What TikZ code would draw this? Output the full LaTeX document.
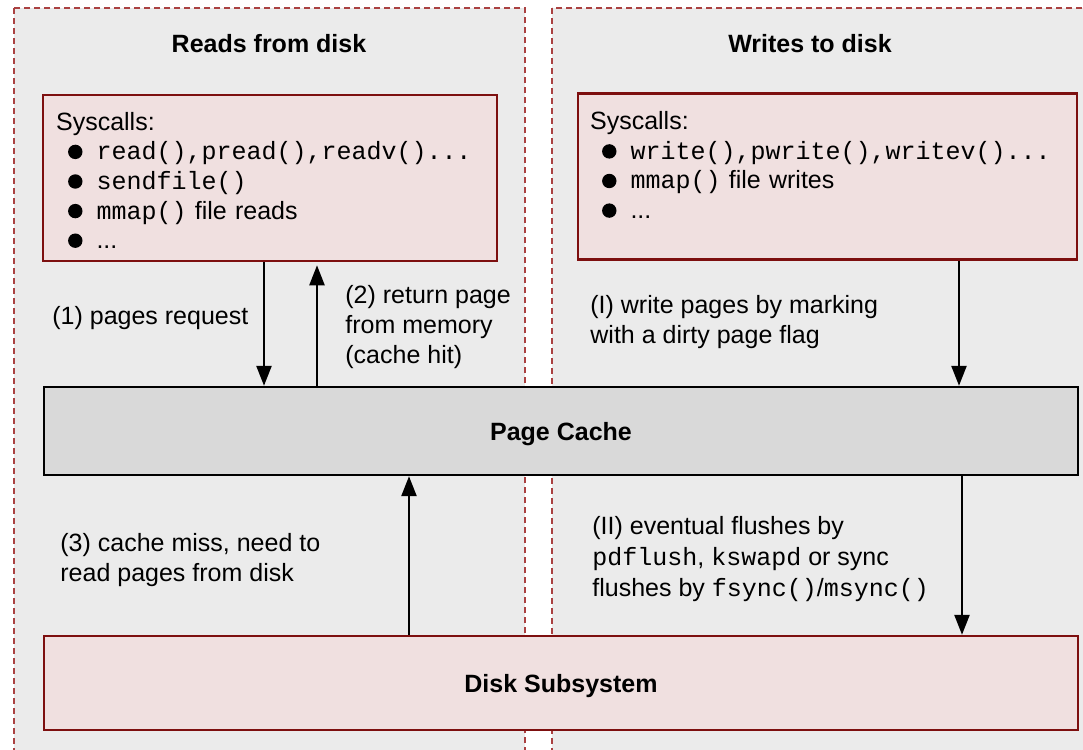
\documentclass[tikz,border=0pt]{standalone}
\usepackage{fontspec}
\setmainfont{Liberation Sans}
\setmonofont{Liberation Mono}
\usetikzlibrary{positioning, arrows.meta}

\definecolor{panelgray}{RGB}{235,235,235}
\definecolor{dashred}{RGB}{170,65,65}
\definecolor{boxred}{RGB}{125,15,15}
\definecolor{boxpink}{RGB}{240,224,224}
\definecolor{cachegray}{RGB}{217,217,217}

\newcommand{\blt}{\tikz[baseline=-0.6ex]\fill (0,0) circle (3.6pt);}
\newcommand{\bitem}{\\\hspace*{6pt}\blt\hspace{7pt}}

\tikzset{
    panel/.style={draw=dashred, dashed, dash pattern=on 3pt off 2pt, fill=panelgray, line width=0.6pt},
    sysbox/.style={draw=boxred, fill=boxpink, line width=1.3pt, minimum height=83pt},
    cachebox/.style={draw=black, fill=cachegray, line width=1.2pt, minimum width=517pt, minimum height=44pt, text depth=0pt, font=\bfseries\fontsize{12.5}{15}\selectfont},
    diskbox/.style={draw=boxred, fill=boxpink, line width=1.2pt, minimum width=517pt, minimum height=47pt, text depth=0pt, font=\bfseries\fontsize{12.5}{15}\selectfont},
    listtext/.style={inner sep=0pt, align=left, text width=245pt, anchor=north west},
    lbl/.style={inner sep=0pt, align=left, anchor=west},
    title/.style={font=\bfseries\fontsize{12.5}{15}\selectfont},
    arr/.style={-{Triangle[length=10pt, width=7.5pt]}, line width=1.2pt}
}

\begin{document}
\begin{tikzpicture}[x=0.5pt, y=-0.5pt, every node/.style={font=\fontsize{12.5}{14.8}\selectfont}]
    \clip (0,0) rectangle (1083,750);
    \fill[white] (0,0) rectangle (1083,750);

    % the two halves
    \draw[panel] (14,8) rectangle (525,770);
    \draw[panel] (552,8) rectangle (1100,770);

    \node[title] (rdtitle) at (269,44) {Reads from disk};
    \node[title] (wrtitle) at (810,44) {Writes to disk};

    % syscall boxes
    \node[sysbox, minimum width=227pt] (rdsys) at (270,178) {};
    \node[sysbox, minimum width=249.5pt] (wrsys) at (827.5,176.5) {};

    \node[listtext] (rdlist) at ([xshift=7pt, yshift=-9pt]rdsys.north west)
        {Syscalls:\bitem\texttt{read(),pread(),readv()...}\bitem\texttt{sendfile()}\bitem\texttt{mmap()} file reads\bitem...};
    \node[listtext] (wrlist) at ([xshift=6.5pt, yshift=-9.5pt]wrsys.north west)
        {Syscalls:\bitem\texttt{write(),pwrite(),writev()...}\bitem\texttt{mmap()} file writes\bitem...};

    \node[cachebox] (cache) at (561,431) {Page Cache};
    \node[diskbox] (disk) at (561,683) {Disk Subsystem};

    % x positions of the arrows
    \coordinate (a1) at (264,0);
    \coordinate (a2) at (317,0);
    \coordinate (a3) at (959,0);
    \coordinate (a4) at (409,0);
    \coordinate (a5) at (962,0);

    \draw[arr] (rdsys.south -| a1) -- (cache.north -| a1);
    \draw[arr, shorten >=1.5pt] (cache.north -| a2) -- (rdsys.south -| a2);
    \draw[arr] (wrsys.south -| a3) -- (cache.north -| a3);
    \draw[arr] (disk.north -| a4) -- (cache.south -| a4);
    \draw[arr] (cache.south -| a5) -- (disk.north -| a5);

    \node[lbl] (lblone) at (52,318) {(1) pages request};
    \node[lbl, font=\fontsize{12.5}{15}\selectfont] (lbltwo) at (345,327) {(2) return page\\from memory\\(cache hit)};
    \node[lbl, font=\fontsize{12.5}{15}\selectfont] (lblwi) at (590,322.5) {(I) write pages by marking\\with a dirty page flag};
    \node[lbl, font=\fontsize{12.5}{15}\selectfont] (lblthree) at (60,560) {(3) cache miss, need to\\read pages from disk};
    \node[lbl, font=\fontsize{12.5}{15.5}\selectfont] (lblwii) at (592,559.5)
        {(II) eventual flushes by\\\texttt{pdflush}, \texttt{kswapd} or sync\\flushes by \texttt{fsync()}/\texttt{msync()}};
\end{tikzpicture}
\end{document}
